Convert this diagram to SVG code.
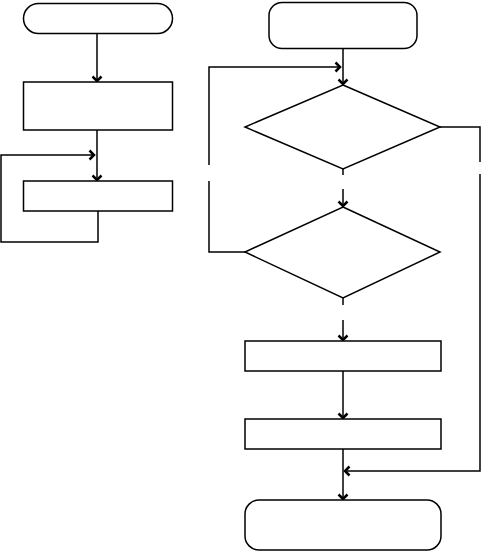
<svg xmlns="http://www.w3.org/2000/svg" width="492" height="552" viewBox="0 0 492 552">
<style>
.s{fill:#fff;stroke:#000;stroke-width:1.5}
.c{fill:none;stroke:#000;stroke-width:1.5}
.a{marker-end:url(#ah)}
</style>
<defs>
<marker id="ah" markerUnits="userSpaceOnUse" viewBox="-8 -6 10 12" refX="0" refY="0" markerWidth="10" markerHeight="12" orient="auto">
<path d="M-4.5,-4.5 L0,0 L-4.5,4.5" fill="none" stroke="#000" stroke-width="2.5"/>
</marker>
</defs>
<rect width="492" height="552" fill="#fff"/>
<g id="connectors">
<path class="c a" d="M97,33 V81"/>
<path class="c a" d="M97,130 V180"/>
<path class="c a" d="M98,211 V242 H1 V155 H94"/>
<path class="c a" d="M343,48 V84"/>
<path class="c a" d="M209,165 V67 H340"/>
<path class="c" d="M209,181 V252 H245"/>
<path class="c" d="M440,127 H480 V162"/>
<path class="c a" d="M480,174 V471 H345"/>
<path class="c" d="M343,169 V175"/>
<path class="c a" d="M343,189 V206"/>
<path class="c" d="M343,298 V305"/>
<path class="c a" d="M343,320 V340"/>
<path class="c a" d="M343,371 V418"/>
<path class="c a" d="M343,449 V499"/>
</g>
<g id="start-left"><rect class="s" x="23.5" y="3.5" width="149" height="30" rx="15"/></g>
<g id="process-left-1"><rect class="s" x="23.5" y="82" width="149" height="48"/></g>
<g id="process-left-2"><rect class="s" x="23.5" y="181" width="149" height="30"/></g>
<g id="start-right"><rect class="s" x="269" y="2.5" width="148" height="46" rx="13"/></g>
<g id="decision-1"><path class="s" d="M343,85 L440,127 L343,169 L245,127 Z"/></g>
<g id="decision-2"><path class="s" d="M343,207 L440,252 L343,298 L245,252 Z"/></g>
<g id="process-right-1"><rect class="s" x="245" y="341" width="196" height="30"/></g>
<g id="process-right-2"><rect class="s" x="245" y="419" width="196" height="30"/></g>
<g id="end-right"><rect class="s" x="245" y="500" width="196" height="50" rx="14"/></g>
</svg>
